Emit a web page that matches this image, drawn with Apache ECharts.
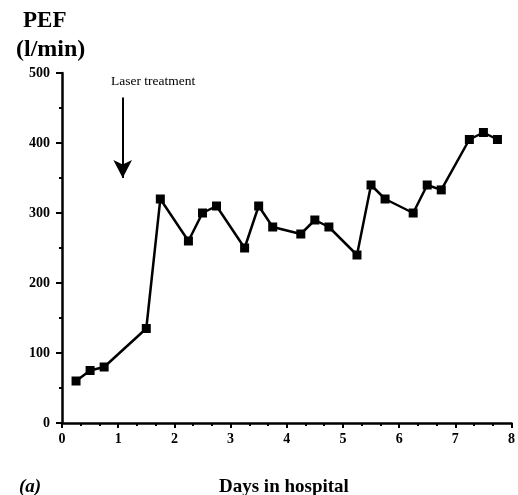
<!DOCTYPE html>
<html><head><meta charset="utf-8">
<script src="https://cdn.jsdelivr.net/npm/echarts@6/dist/echarts.min.js"></script>
<style>html,body{margin:0;padding:0;background:#fff}#c{width:518px;height:495px}</style>
</head><body><div id="c"></div>
<script>
const days = [0.25,0.5,0.75,1.5,1.75,2.25,2.5,2.75,3.25,3.5,3.75,4.25,4.5,4.75,5.25,5.5,5.75,6.25,6.5,6.75,7.25,7.5,7.75];
const pef = [60,75,80,135,320,260,300,310,250,310,280,270,290,280,240,340,320,300,340,333,405,415,405];
const arrowDay = 1.08;
const arrowFrom = 465;
const arrowTo = 350;
const xTicks = [0,1,2,3,4,5,6,7,8];
const yTicks = [0,100,200,300,400,500];

const font = '"Liberation Serif","Times New Roman",serif';
const chart = echarts.init(document.getElementById('c'));
chart.setOption({
  animation:false,
  backgroundColor:'#fff',
  grid:{left:62,right:3,top:73,bottom:72},
  title:[
    {text:'PEF',left:18,top:5,textStyle:{fontFamily:font,fontWeight:'bold',fontSize:23,color:'#000'}},
    {text:'(l/min)',left:11,top:33,textStyle:{fontFamily:font,fontWeight:'bold',fontSize:24,color:'#000'}},
    {text:'Laser treatment',left:106,top:69,textStyle:{fontFamily:font,fontWeight:'normal',fontSize:13.5,color:'#000'}},
    {text:'(a)',left:14,top:473,textStyle:{fontFamily:font,fontWeight:'bold',fontStyle:'italic',fontSize:19,color:'#000'}},
    {text:'Days in hospital',left:214,top:473,textStyle:{fontFamily:font,fontWeight:'bold',fontSize:19,color:'#000'}}
  ],
  xAxis:{type:'value',min:xTicks[0],max:xTicks[xTicks.length-1],interval:1,
    axisLine:{lineStyle:{color:'#000',width:2.5}},
    axisTick:{length:5,lineStyle:{color:'#000',width:2}},
    minorTick:{show:true,splitNumber:3,length:3,lineStyle:{color:'#000',width:2}},
    splitLine:{show:false},
    axisLabel:{fontFamily:font,fontWeight:'bold',fontSize:14,color:'#000',margin:9}},
  yAxis:{type:'value',min:yTicks[0],max:yTicks[yTicks.length-1],interval:100,
    axisLine:{show:true,lineStyle:{color:'#000',width:2.5}},
    axisTick:{show:true,length:6,lineStyle:{color:'#000',width:2}},
    minorTick:{show:true,splitNumber:2,length:3,lineStyle:{color:'#000',width:2}},
    splitLine:{show:false},
    axisLabel:{fontFamily:font,fontWeight:'bold',fontSize:14,color:'#000',margin:12}},
  series:[{
    type:'line',
    data:days.map((d,i)=>[d,pef[i]]),
    symbol:'rect',symbolSize:9,
    lineStyle:{color:'#000',width:2.5},
    itemStyle:{color:'#000'},
    markLine:{
      silent:true,
      symbol:['none','arrow'],symbolSize:[14,18],
      label:{show:false},
      lineStyle:{color:'#000',width:2,type:'solid'},
      data:[[{coord:[arrowDay,arrowFrom]},{coord:[arrowDay,arrowTo]}]]
    }
  }]
});
</script></body></html>
